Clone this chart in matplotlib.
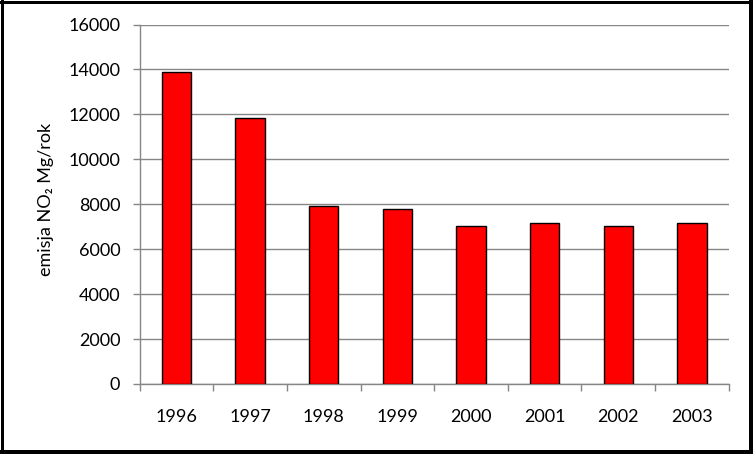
import matplotlib
matplotlib.use("Agg")
import matplotlib.pyplot as plt
from matplotlib.patches import Rectangle

years = ["1996", "1997", "1998", "1999", "2000", "2001", "2002", "2003"]
emissions = [13870, 11860, 7910, 7780, 7020, 7160, 7020, 7160]
yticks = [0, 2000, 4000, 6000, 8000, 10000, 12000, 14000, 16000]
ylabel = "emisja NO\u2082 Mg/rok"

plt.rcParams['font.family'] = ['Lato', 'DejaVu Sans']

W, H = 753, 454
fig = plt.figure(figsize=(W / 100, H / 100), dpi=100)
fig.patch.set_facecolor('white')

ax = fig.add_axes([139.7 / W, 1 - 384 / H, (728.7 - 139.7) / W, (384 - 24.5) / H])
x = list(range(len(years)))
ax.bar(x, emissions, width=0.4, color='#ff0000', edgecolor='black', linewidth=1.0, zorder=3)

ax.set_xlim(-0.5, len(years) - 0.5)
ax.set_ylim(0, 16000)
ax.set_yticks(yticks)
ax.set_yticklabels([str(v) for v in yticks])
ax.set_xticks(x)
ax.set_xticklabels(years)
ax.set_xticks([i + 0.5 for i in range(-1, len(years))], minor=True)

grey = '#868686'
ax.yaxis.grid(True, color=grey, linewidth=1.0, zorder=0)
ax.set_axisbelow(True)
for s in ['top', 'right']:
    ax.spines[s].set_visible(False)
for s in ['left', 'bottom']:
    ax.spines[s].set_color(grey)
    ax.spines[s].set_linewidth(1.0)

ax.tick_params(axis='y', which='major', direction='out', length=5, width=1.0, color=grey,
               labelsize=13, pad=9, labelcolor='black')
ax.tick_params(axis='x', which='major', length=0, labelsize=13, pad=18, labelcolor='black')
ax.tick_params(axis='x', which='minor', direction='out', length=5, width=1.0, color=grey)

fig.text(46 / W, 1 - 199 / H, ylabel, rotation=90, ha='center', va='center', fontsize=13)

# outer black frame (thicker on right/bottom as in the reference)
def frame_line(x0, y0, x1, y1, px):
    fig.add_artist(plt.Line2D([x0 / W, x1 / W], [1 - y0 / H, 1 - y1 / H],
                              transform=fig.transFigure, color='black',
                              linewidth=px * 0.72, solid_capstyle='projecting', zorder=10))

frame_line(0, 1.5, W, 1.5, 3)          # top
frame_line(1.5, 0, 1.5, H, 3)          # left
frame_line(W - 2, 0, W - 2, H, 4)      # right
frame_line(0, H - 2, W, H - 2, 4)      # bottom

fig.savefig("out.png", dpi=100, facecolor='white')
